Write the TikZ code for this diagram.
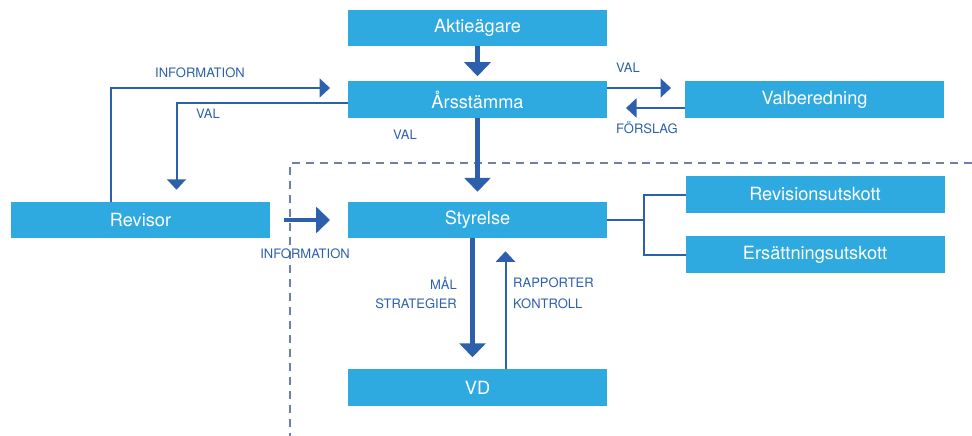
\documentclass[tikz,border=0pt]{standalone}
\usepackage{fontspec}
\setmainfont{TeX Gyre Heros}
\usepackage{xcolor}
\usepackage{tikz}
\usetikzlibrary{arrows.meta,positioning,calc}
\definecolor{boxblue}{RGB}{46,170,224}
\definecolor{arrblue}{RGB}{44,96,172}
\definecolor{dashgray}{RGB}{112,126,170}
\tikzset{
  box/.style={fill=boxblue, text=white, minimum width=259pt, minimum height=36.5pt, inner sep=0pt, outer sep=0pt, font=\fontsize{18.2}{20}\selectfont},
  lbl/.style={text=arrblue, inner sep=0pt, font=\fontsize{13}{15}\selectfont},
  thickarr/.style={draw=arrblue, line width=4.5pt, -{Triangle[width=26pt,length=14pt]}},
  thinarr/.style={draw=arrblue, line width=2pt, -{Triangle[width=19pt,length=10.5pt]}},
  link/.style={draw=arrblue, line width=2pt},
  dashline/.style={draw=dashgray, line width=1.3pt, dash pattern=on 8pt off 6pt}
}
\begin{document}
\begin{tikzpicture}[x=1pt,y=-1pt]
\useasboundingbox (0,0) rectangle (972,436);
% boxes
\node[box] (aktie) at (477.5,28) {Aktieägare};
\node[box, below=35pt of aktie] (arsst) {Årsstämma};
\node[box, right=78pt of arsst] (valb) {Valberedning};
\node[box, below=84pt of arsst] (styr) {Styrelse};
\node[box, below=131pt of styr] (vd) {VD};
\node[box, left=78pt of styr] (revisor) {Revisor};
\node[box] (revu) at (815,194.5) {Revisionsutskott};
\node[box] (ersu) at (815,254.5) {Ersättningsutskott};

\draw[dashline] (972,163) -- (290,163) -- (290,436);

% connectors
\draw[thickarr] (aktie.south) -- ([yshift=5pt]arsst.north);
\draw[thickarr] (arsst.south) -- ([yshift=10pt]styr.north);
\draw[thinarr] ([xshift=-30pt]revisor.north) |- ([xshift=-18pt,yshift=11.5pt]arsst.west);
\draw[thinarr] ([yshift=-3.5pt]arsst.west) -| ([xshift=36pt,yshift=12pt]revisor.north);
\draw[thinarr] ([yshift=11.5pt]arsst.east) -- ([xshift=-14pt,yshift=11.5pt]valb.west);
\draw[thinarr] ([yshift=-8.5pt]valb.west) -- ([xshift=19pt,yshift=-8.5pt]arsst.east);
\draw[thickarr] ([xshift=14pt]revisor.east) -- ([xshift=-18pt]styr.west);
\draw[thickarr] ([xshift=-5pt]styr.south) -- ([xshift=-5pt,yshift=12pt]vd.north);
\draw[thinarr] ([xshift=28pt]vd.north) -- ([xshift=28pt,yshift=-13pt]styr.south);
\draw[link] (styr.east) -- ++(37,0) coordinate (fork) |- (revu.west);
\draw[link] (fork) |- (ersu.west);

% labels
\node[lbl] (infoa) at (200,73) {INFORMATION};
\node[lbl] (valleft) at (208,114) {VAL};
\node[lbl] (valmid) at (405,135) {VAL};
\node[lbl] (valright) at (628,68) {VAL};
\node[lbl] (forsl) at (647,128) {FÖRSLAG};
\node[lbl] (infob) at (305,254) {INFORMATION};
\node[lbl, anchor=east] (mal) at (457,283) {MÅL};
\node[lbl, anchor=east] (strat) at (457,304) {STRATEGIER};
\node[lbl, anchor=west] (rapp) at (513,283) {RAPPORTER};
\node[lbl, anchor=west] (kontr) at (513,304) {KONTROLL};
\end{tikzpicture}
\end{document}
